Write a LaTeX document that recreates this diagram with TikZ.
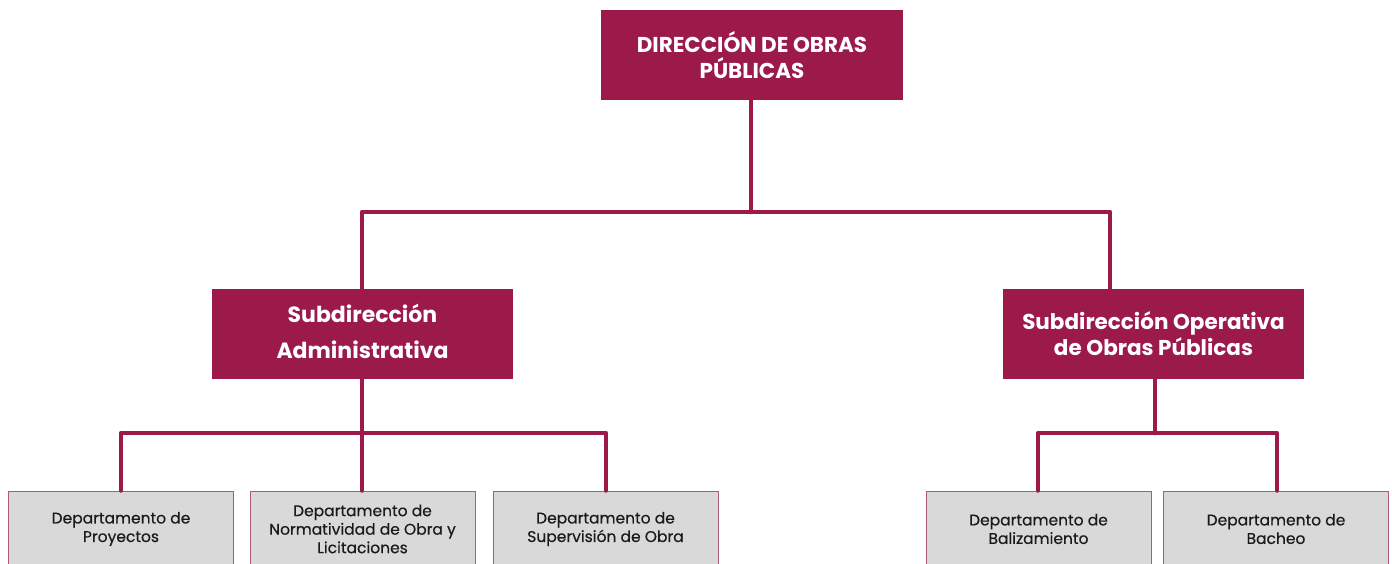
\documentclass[tikz,border=0pt]{standalone}
\usepackage{fontspec}
\setmainfont{Poppins}
\definecolor{guinda}{HTML}{9B1A4A}
\definecolor{gris}{HTML}{D9D9D9}
\definecolor{borde}{HTML}{B0587A}
\definecolor{texto}{HTML}{1A1A1A}
\begin{document}
\begin{tikzpicture}[x=1pt,y=-1pt,
  mainbox/.style={fill=guinda,draw=none,text=white,font=\bfseries,align=center,inner sep=0pt},
  deptbox/.style={fill=gris,draw=borde,line width=1pt,text=texto,align=center,inner sep=0pt,font=\fontsize{15.5}{18.5}\selectfont\addfontfeature{FakeBold=0.4}},
  link/.style={draw=guinda,line width=4.5pt,line cap=round,line join=round}]
\useasboundingbox (0,0) rectangle (1392,563);
% main boxes
\node[mainbox,minimum width=302pt,minimum height=90pt,font=\bfseries\fontsize{21.5}{26}\selectfont] (dir) at (752,55) {DIRECCIÓN DE OBRAS\\PÚBLICAS};
\node[mainbox,minimum width=301pt,minimum height=90pt] (adm) at (362.5,334) {};
\node[text=white,align=center,inner sep=0pt,font=\bfseries\fontsize{22}{36}\selectfont] (admtxt) at (362.5,331) {Subdirección\\Administrativa};
\node[mainbox,minimum width=301pt,minimum height=90pt,font=\bfseries\fontsize{21.5}{26}\selectfont] (ope) at (1153.5,334) {Subdirección Operativa\\de Obras Públicas};
% department boxes
\node[deptbox,minimum width=225pt,minimum height=76pt] (d1) at (121,529) {Departamento de\\Proyectos};
\node[deptbox,minimum width=225pt,minimum height=76pt] (d2) at (362.5,529) {Departamento de\\Normatividad de Obra y\\Licitaciones};
\node[deptbox,minimum width=225pt,minimum height=76pt] (d3) at (605.5,529) {Departamento de\\Supervisión de Obra};
\node[deptbox,minimum width=225pt,minimum height=76pt] (d4) at (1038.5,529) {Departamento de\\Balizamiento};
\node[deptbox,minimum width=225pt,minimum height=76pt] (d5) at (1276,529) {Departamento de\\Bacheo};
% connectors
\coordinate (j0) at (751,212);
\coordinate (jl) at (362,212);
\coordinate (jr) at (1110,212);
\draw[link] (dir.south -| j0) -- (j0);
\draw[link] (adm.north -| jl) -- (jl) -- (jr) -- (ope.north -| jr);
\coordinate (ja) at (362,433);
\coordinate (ja1) at (121,433);
\coordinate (ja3) at (606,433);
\draw[link] (adm.south -| ja) -- (ja);
\draw[link] (d1.north -| ja1) -- (ja1) -- (ja3) -- (d3.north -| ja3);
\draw[link] (ja) -- (d2.north -| ja);
\coordinate (jo) at (1155,433);
\coordinate (jo1) at (1038,433);
\coordinate (jo2) at (1277,433);
\draw[link] (ope.south -| jo) -- (jo);
\draw[link] (d4.north -| jo1) -- (jo1) -- (jo2) -- (d5.north -| jo2);
\end{tikzpicture}
\end{document}
